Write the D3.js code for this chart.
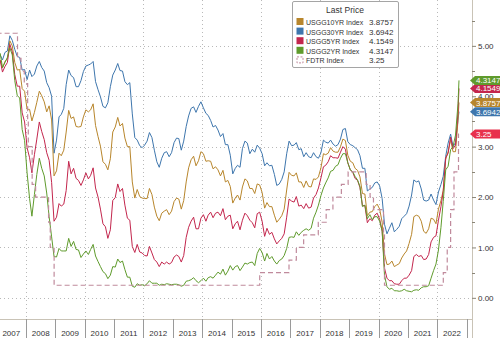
<!DOCTYPE html>
<html>
<head>
<meta charset="utf-8">
<script src="https://cdn.jsdelivr.net/npm/d3@7"></script>
<style>
  html, body { margin: 0; padding: 0; background: #fff; }
  svg { display: block; font-family: "Liberation Sans", Arial, sans-serif; }
</style>
</head>
<body>
<svg id="chart" width="500" height="338"></svg>
<script>
// monthly averages, Jan 2007 .. Sep 2022
const us10y = [
  4.76,4.72,4.56,4.69,4.75,5.10,5.00,4.67,4.52,4.53,4.15,4.10,
  3.74,3.74,3.51,3.68,3.88,4.10,4.01,3.89,3.69,3.81,3.53,2.42,
  2.52,2.87,2.82,2.93,3.29,3.72,3.56,3.59,3.40,3.39,3.40,3.59,
  3.73,3.69,3.73,3.85,3.42,3.20,3.01,2.70,2.65,2.54,2.76,3.29,
  3.39,3.58,3.41,3.46,3.17,3.00,3.00,2.30,1.98,2.15,2.01,1.98,
  1.97,1.97,2.17,2.05,1.80,1.62,1.53,1.68,1.72,1.75,1.65,1.72,
  1.91,1.98,1.96,1.76,1.93,2.30,2.58,2.74,2.81,2.62,2.72,2.90,
  2.86,2.71,2.72,2.71,2.56,2.60,2.54,2.42,2.53,2.30,2.33,2.21,
  1.88,1.98,2.04,1.94,2.20,2.36,2.32,2.17,2.17,2.07,2.26,2.24,
  2.09,1.78,1.89,1.81,1.81,1.64,1.50,1.56,1.63,1.76,2.14,2.49,
  2.43,2.42,2.48,2.30,2.30,2.19,2.32,2.21,2.20,2.36,2.35,2.40,
  2.58,2.86,2.84,2.87,2.98,2.91,2.89,2.89,3.00,3.15,3.12,2.83,
  2.71,2.68,2.57,2.53,2.40,2.07,2.06,1.63,1.70,1.71,1.81,1.86,
  1.76,1.50,0.87,0.66,0.67,0.73,0.62,0.65,0.68,0.79,0.87,0.93,
  1.08,1.26,1.61,1.64,1.62,1.52,1.32,1.28,1.37,1.58,1.56,1.47,
  1.76,1.93,2.13,2.75,2.90,3.14,2.90,2.90,3.52
];
const us30y = [
  4.85,4.82,4.72,4.87,4.90,5.20,5.11,4.93,4.79,4.77,4.52,4.53,
  4.33,4.52,4.39,4.44,4.60,4.69,4.57,4.50,4.27,4.17,4.00,2.87,
  3.13,3.59,3.64,3.76,4.23,4.52,4.41,4.37,4.19,4.19,4.31,4.49,
  4.60,4.62,4.64,4.69,4.29,4.13,3.99,3.80,3.77,3.87,4.19,4.42,
  4.52,4.65,4.51,4.50,4.29,4.23,4.27,3.65,3.18,3.13,3.02,2.98,
  3.03,3.11,3.28,3.18,2.93,2.70,2.59,2.77,2.88,2.90,2.80,2.88,
  3.08,3.17,3.16,2.93,3.11,3.40,3.61,3.76,3.79,3.68,3.80,3.89,
  3.77,3.66,3.62,3.52,3.39,3.42,3.33,3.20,3.26,3.04,3.04,2.83,
  2.46,2.57,2.63,2.59,2.96,3.11,3.07,2.86,2.95,2.89,3.03,2.97,
  2.86,2.62,2.68,2.62,2.63,2.45,2.23,2.26,2.35,2.50,2.86,3.11,
  3.02,3.03,3.08,2.94,2.96,2.80,2.88,2.80,2.78,2.88,2.80,2.77,
  2.88,3.13,3.09,3.07,3.13,3.05,3.01,3.04,3.15,3.34,3.36,3.10,
  3.04,3.02,2.98,2.94,2.82,2.57,2.57,2.12,2.16,2.19,2.28,2.30,
  2.22,1.97,1.46,1.27,1.38,1.49,1.31,1.36,1.42,1.57,1.62,1.67,
  1.82,2.04,2.34,2.30,2.32,2.16,1.94,1.92,1.94,2.06,1.94,1.85,
  2.10,2.25,2.41,2.81,3.07,3.25,3.00,3.08,3.53
];
const us5y = [
  4.75,4.71,4.48,4.59,4.67,5.03,4.88,4.43,4.20,4.20,3.67,3.49,
  2.98,2.78,2.48,2.84,3.15,3.49,3.30,3.14,2.88,2.73,2.29,1.52,
  1.60,1.87,1.82,1.86,2.13,2.71,2.46,2.57,2.37,2.33,2.23,2.34,
  2.48,2.36,2.43,2.58,2.18,2.00,1.76,1.47,1.41,1.18,1.35,1.93,
  1.99,2.26,2.11,2.17,1.84,1.58,1.54,1.02,0.90,1.06,0.91,0.89,
  0.84,0.83,1.02,0.89,0.76,0.71,0.62,0.71,0.67,0.71,0.67,0.70,
  0.81,0.85,0.82,0.71,0.84,1.20,1.40,1.52,1.60,1.37,1.37,1.58,
  1.65,1.52,1.64,1.70,1.59,1.68,1.70,1.63,1.77,1.55,1.62,1.64,
  1.37,1.47,1.52,1.35,1.54,1.68,1.63,1.54,1.49,1.39,1.67,1.70,
  1.52,1.22,1.38,1.26,1.30,1.17,1.07,1.13,1.18,1.27,1.60,1.96,
  1.92,1.90,2.01,1.82,1.84,1.77,1.87,1.78,1.80,1.98,2.05,2.18,
  2.38,2.60,2.63,2.70,2.82,2.78,2.78,2.77,2.89,3.00,2.95,2.68,
  2.54,2.49,2.37,2.33,2.19,1.83,1.83,1.49,1.57,1.53,1.64,1.68,
  1.56,1.32,0.59,0.39,0.34,0.34,0.28,0.27,0.27,0.34,0.39,0.39,
  0.45,0.54,0.82,0.86,0.82,0.84,0.76,0.77,0.86,1.11,1.20,1.23,
  1.54,1.81,2.11,2.78,2.87,3.19,2.96,3.03,3.70
];
const us2y = [
  4.88,4.85,4.57,4.67,4.77,4.96,4.82,4.31,4.01,3.97,3.34,3.12,
  2.48,1.97,1.62,2.05,2.45,2.77,2.57,2.42,2.08,1.61,1.21,0.82,
  0.81,0.98,0.93,0.93,0.93,1.18,1.02,1.12,0.96,0.95,0.80,0.87,
  0.93,0.86,0.96,1.06,0.83,0.72,0.62,0.52,0.48,0.38,0.45,0.62,
  0.61,0.77,0.70,0.73,0.56,0.41,0.41,0.23,0.21,0.28,0.25,0.26,
  0.24,0.28,0.34,0.29,0.29,0.29,0.25,0.27,0.26,0.28,0.27,0.26,
  0.27,0.27,0.26,0.23,0.25,0.33,0.34,0.36,0.40,0.34,0.30,0.34,
  0.39,0.33,0.40,0.42,0.39,0.45,0.51,0.47,0.57,0.45,0.53,0.64,
  0.55,0.62,0.64,0.54,0.61,0.69,0.67,0.70,0.71,0.64,0.88,0.98,
  0.90,0.73,0.88,0.77,0.82,0.73,0.67,0.74,0.77,0.84,0.98,1.20,
  1.21,1.20,1.31,1.24,1.30,1.34,1.37,1.34,1.38,1.58,1.70,1.84,
  2.03,2.18,2.28,2.38,2.51,2.53,2.61,2.64,2.77,2.86,2.86,2.68,
  2.54,2.50,2.41,2.34,2.21,1.81,1.84,1.57,1.65,1.55,1.61,1.61,
  1.52,1.33,0.45,0.22,0.17,0.19,0.14,0.14,0.13,0.14,0.17,0.14,
  0.13,0.12,0.15,0.16,0.15,0.20,0.22,0.22,0.24,0.39,0.54,0.67,
  0.95,1.40,1.91,2.54,2.61,2.94,3.00,3.23,3.85
];

// fed funds target upper bound, change dates
const fdtrDates = ["2007-01-01","2007-09-18","2007-10-31","2007-12-11","2008-01-22","2008-01-30",
  "2008-03-18","2008-04-30","2008-10-08","2008-10-29","2008-12-16","2015-12-16","2016-12-14",
  "2017-03-15","2017-06-14","2017-12-13","2018-03-21","2018-06-13","2018-09-26","2018-12-19",
  "2019-07-31","2019-09-18","2019-10-30","2020-03-03","2020-03-15","2022-03-16","2022-05-04",
  "2022-06-15","2022-07-27","2022-09-21","2022-09-27"];
const fdtrValues = [5.25,4.75,4.50,4.25,3.50,3.00,2.25,2.00,1.50,1.00,0.25,0.50,0.75,
  1.00,1.25,1.50,1.75,2.00,2.25,2.50,2.25,2.00,1.75,1.25,0.25,0.50,1.00,1.75,2.50,3.25,3.25];

const seriesNames = ["USGG10YR Index", "USGG30YR Index", "USGG5YR Index", "USGG2YR Index", "FDTR Index"];
const lastPrices = [3.8757, 3.6942, 4.1549, 4.3147, 3.25];
const lastPriceLabels = ["3.8757", "3.6942", "4.1549", "4.3147", "3.25"];
const lastDate = "2022-09-27";

const years = d3.range(2007, 2023);
const yTicks = [0, 1, 2, 3, 4, 5];

const colors = ["#b8862c", "#3e76ad", "#c3264d", "#5f9b2c", "#c08a9c"];
const tagColors = ["#b8862c", "#3e76ad", "#c3264d", "#5f9b2c", "#e8304c"];

const svg = d3.select("#chart");
const W = 500, H = 338;
const plotRight = 472, plotBottom = 319;

const parse = d3.timeParse("%Y-%m-%d");
const x = d3.scaleTime()
  .domain([new Date(2007, 0, 1), new Date(2023, 0, 1)])
  .range([-3.4, 466.7]);
const y = d3.scaleLinear().domain([-0.42, 5.91]).range([plotBottom, 0]);

svg.append("defs").append("clipPath").attr("id", "plotClip")
  .append("rect").attr("x", 0).attr("y", 0).attr("width", plotRight).attr("height", plotBottom);

// grid
const grid = svg.append("g").attr("stroke", "#b9b9b9").attr("stroke-dasharray", "1,3").attr("stroke-width", 1);
grid.selectAll("line.h").data(yTicks).join("line")
  .attr("x1", 0).attr("x2", plotRight)
  .attr("y1", d => Math.round(y(d)) + 0.5).attr("y2", d => Math.round(y(d)) + 0.5);
grid.selectAll("line.v").data(years.filter(d => d % 2 === 0)).join("line")
  .attr("x1", d => Math.round(x(new Date(d, 0, 1))) + 0.5).attr("x2", d => Math.round(x(new Date(d, 0, 1))) + 0.5)
  .attr("y1", 0).attr("y2", plotBottom);

// series lines
const monthDate = i => d3.timeMonth.offset(new Date(2007, 0, 15), i);
const yieldSeries = [us10y, us30y, us5y, us2y].map((vals, k) => ({
  name: seriesNames[k],
  color: colors[k],
  points: vals.map((v, i) => ({ date: monthDate(i), v }))
    .concat([{ date: parse(lastDate), v: lastPrices[k] }])
}));

const line = d3.line().x(d => x(d.date)).y(d => y(d.v));
const lines = svg.append("g").attr("clip-path", "url(#plotClip)");
// draw 30Y first so 10Y sits over it
[1, 0, 2, 3].forEach(k => {
  lines.append("path")
    .datum(yieldSeries[k].points)
    .attr("fill", "none")
    .attr("stroke", yieldSeries[k].color)
    .attr("stroke-width", 1)
    .attr("stroke-linejoin", "round")
    .attr("d", line);
});

const fdtrPoints = fdtrDates.map((d, i) => ({ date: parse(d), v: fdtrValues[i] }));
lines.append("path")
  .datum(fdtrPoints)
  .attr("fill", "none")
  .attr("stroke", colors[4])
  .attr("stroke-width", 1.2)
  .attr("stroke-dasharray", "5,3")
  .attr("d", line.curve(d3.curveStepAfter));

// frame
svg.append("line").attr("x1", plotRight + 0.5).attr("x2", plotRight + 0.5).attr("y1", 0).attr("y2", H)
  .attr("stroke", "#c9c3b6");
svg.append("line").attr("x1", 0).attr("x2", plotRight).attr("y1", plotBottom + 0.5).attr("y2", plotBottom + 0.5)
  .attr("stroke", "#c9c3b6");

// right axis
const yAxis = d3.axisRight(y).tickValues(yTicks).tickFormat(d3.format(".2f")).tickSize(4).tickPadding(2);
const axisG = svg.append("g").attr("transform", `translate(${plotRight},0)`).call(yAxis);
axisG.select(".domain").remove();
axisG.selectAll(".tick line").attr("stroke", "#8a8577");
axisG.selectAll(".tick text").attr("fill", "#333").attr("font-size", 8)
  .attr("font-family", "'Liberation Sans', Arial, sans-serif");
svg.append("g").selectAll("line").data([0.5, 1.5, 2.5, 3.5, 4.5, 5.5]).join("line")
  .attr("x1", plotRight).attr("x2", plotRight + 3)
  .attr("y1", d => Math.round(y(d)) + 0.5).attr("y2", d => Math.round(y(d)) + 0.5)
  .attr("stroke", "#8a8577");

// year band
const band = svg.append("g");
band.selectAll("line").data(d3.range(2008, 2024)).join("line")
  .attr("x1", d => Math.round(x(new Date(d, 0, 1))) + 0.5).attr("x2", d => Math.round(x(new Date(d, 0, 1))) + 0.5)
  .attr("y1", plotBottom).attr("y2", H)
  .attr("stroke", "#9a9a9a");
band.selectAll("text").data(years).join("text")
  .attr("x", d => (x(new Date(d, 0, 1)) + x(new Date(d + 1, 0, 1))) / 2)
  .attr("y", 336)
  .attr("text-anchor", "middle")
  .attr("font-size", 8)
  .attr("fill", "#333")
  .text(d => d);

// last price tags on the axis
const tags = svg.append("g");
lastPrices.forEach((v, k) => {
  const cy = y(v);
  const g = tags.append("g");
  g.append("path")
    .attr("d", `M${plotRight - 2},${cy} L${plotRight + 3},${cy - 4.5} L${W},${cy - 4.5} L${W},${cy + 4.5} L${plotRight + 3},${cy + 4.5} Z`)
    .attr("fill", tagColors[k]);
  g.append("text")
    .attr("x", plotRight + 4)
    .attr("y", cy + 3)
    .attr("font-size", 8)
    .attr("fill", "#fff")
    .text(lastPriceLabels[k]);
});

// legend
const lg = svg.append("g").attr("transform", "translate(292,1)");
lg.append("rect").attr("x", 0.5).attr("y", 0.5).attr("width", 106).attr("height", 66)
  .attr("fill", "#fff").attr("stroke", "#a5a5a5").attr("rx", 1.5);
lg.append("text").attr("x", 53).attr("y", 12).attr("text-anchor", "middle")
  .attr("font-size", 8.5).attr("fill", "#333").text("Last Price");
seriesNames.forEach((name, k) => {
  const by = 24 + k * 9.6;
  if (k < 4) {
    lg.append("rect").attr("x", 4.5).attr("y", by - 7).attr("width", 7).attr("height", 7)
      .attr("fill", colors[k]);
  } else {
    lg.append("rect").attr("x", 5).attr("y", by - 6.5).attr("width", 6).attr("height", 6)
      .attr("fill", "#fff").attr("stroke", colors[4]).attr("stroke-dasharray", "2,1.5");
  }
  lg.append("text").attr("x", 14).attr("y", by).attr("font-size", 7).attr("fill", "#333")
    .text(name);
  lg.append("text").attr("x", 77).attr("y", by).attr("font-size", 8).attr("fill", "#333")
    .text(lastPriceLabels[k]);
});
</script>
</body>
</html>
